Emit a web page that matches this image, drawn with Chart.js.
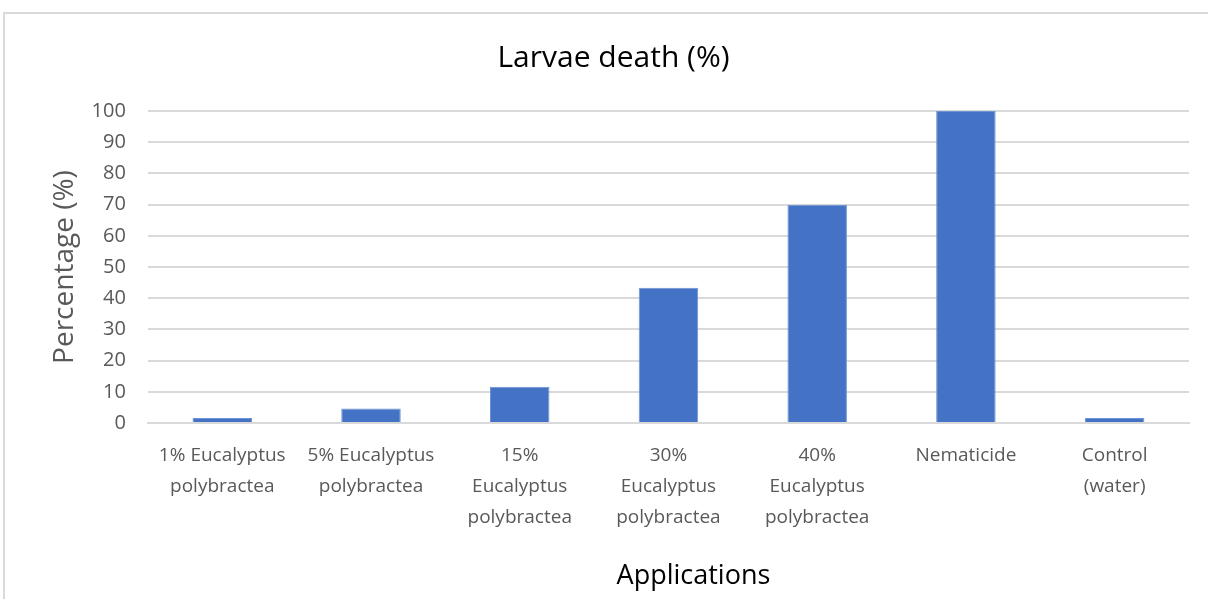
<!DOCTYPE html>
<html>
<head>
<meta charset="utf-8">
<script src="https://cdn.jsdelivr.net/npm/chart.js@4"></script>
<style>
  html, body { margin: 0; padding: 0; background: #fff; overflow: hidden; }
  #frame { position: absolute; left: 3px; top: 12px; width: 1220px; height: 620px; border: 2px solid #d9d9d9; }
  #wrap { position: absolute; left: 0; top: 0; width: 1208px; height: 599px; }
</style>
</head>
<body>
<div id="frame"></div>
<div id="wrap"><canvas id="myChart"></canvas></div>
<script>
let labels = [
  ['1% Eucalyptus', 'polybractea'],
  ['5% Eucalyptus', 'polybractea'],
  ['15%', 'Eucalyptus', 'polybractea'],
  ['30%', 'Eucalyptus', 'polybractea'],
  ['40%', 'Eucalyptus', 'polybractea'],
  'Nematicide',
  ['Control', '(water)']
];
let deaths = [1.67, 4.67, 11.67, 43.33, 70, 100, 1.67];
let yTicks = [0, 10, 20, 30, 40, 50, 60, 70, 80, 90, 100];
let xTitle = 'Applications';

// x axis title sits a little right of the plot centre, so draw it by hand
let xTitlePlugin = {
  id: 'xTitle',
  afterDraw: function (chart) {
    let c = chart.ctx;
    let area = chart.chartArea;
    c.save();
    c.font = '27px "Open Sans"';
    c.fillStyle = '#000';
    c.textAlign = 'center';
    c.textBaseline = 'middle';
    c.fillText(xTitle, (area.left + area.right) / 2 + 25, chart.height - 23);
    c.restore();
  }
};

let ctx = document.getElementById('myChart').getContext('2d');

let chart = new Chart(ctx, {
  type: 'bar',
  data: {
    labels: labels,
    datasets: [{
      data: deaths,
      backgroundColor: '#4472c4',
      borderColor: '#6f93d4',
      borderWidth: 1,
      categoryPercentage: 1,
      barPercentage: 0.4
    }]
  },
  plugins: [xTitlePlugin],
  options: {
    responsive: true,
    maintainAspectRatio: false,
    animation: false,
    layout: { padding: { left: 38, right: 19, top: 40, bottom: 57 } },
    plugins: {
      legend: { display: false },
      tooltip: { enabled: false },
      title: {
        display: true,
        text: 'Larvae death (%)',
        color: '#000',
        font: { family: 'Open Sans', size: 30, weight: 'normal', lineHeight: 1.2 },
        padding: { top: 0, bottom: 35 }
      }
    },
    scales: {
      x: {
        grid: { display: false },
        border: { color: '#d9d9d9', width: 2 },
        ticks: {
          color: '#595959',
          font: { family: 'Open Sans', size: 19, lineHeight: 1.63 },
          maxRotation: 0,
          autoSkip: false,
          padding: 9
        }
      },
      y: {
        min: 0,
        max: 100,
        afterBuildTicks: function (axis) {
          axis.ticks = yTicks.map(function (v) { return { value: v }; });
        },
        grid: { color: '#d9d9d9', lineWidth: 2, drawTicks: false },
        border: { display: false },
        ticks: {
          color: '#595959',
          font: { family: 'Open Sans', size: 20 },
          padding: 22
        },
        title: {
          display: true,
          text: 'Percentage (%)',
          color: '#595959',
          font: { family: 'Open Sans', size: 28, lineHeight: 1.2 },
          padding: { top: 10, bottom: -12 }
        }
      }
    }
  }
});
</script>
</body>
</html>
